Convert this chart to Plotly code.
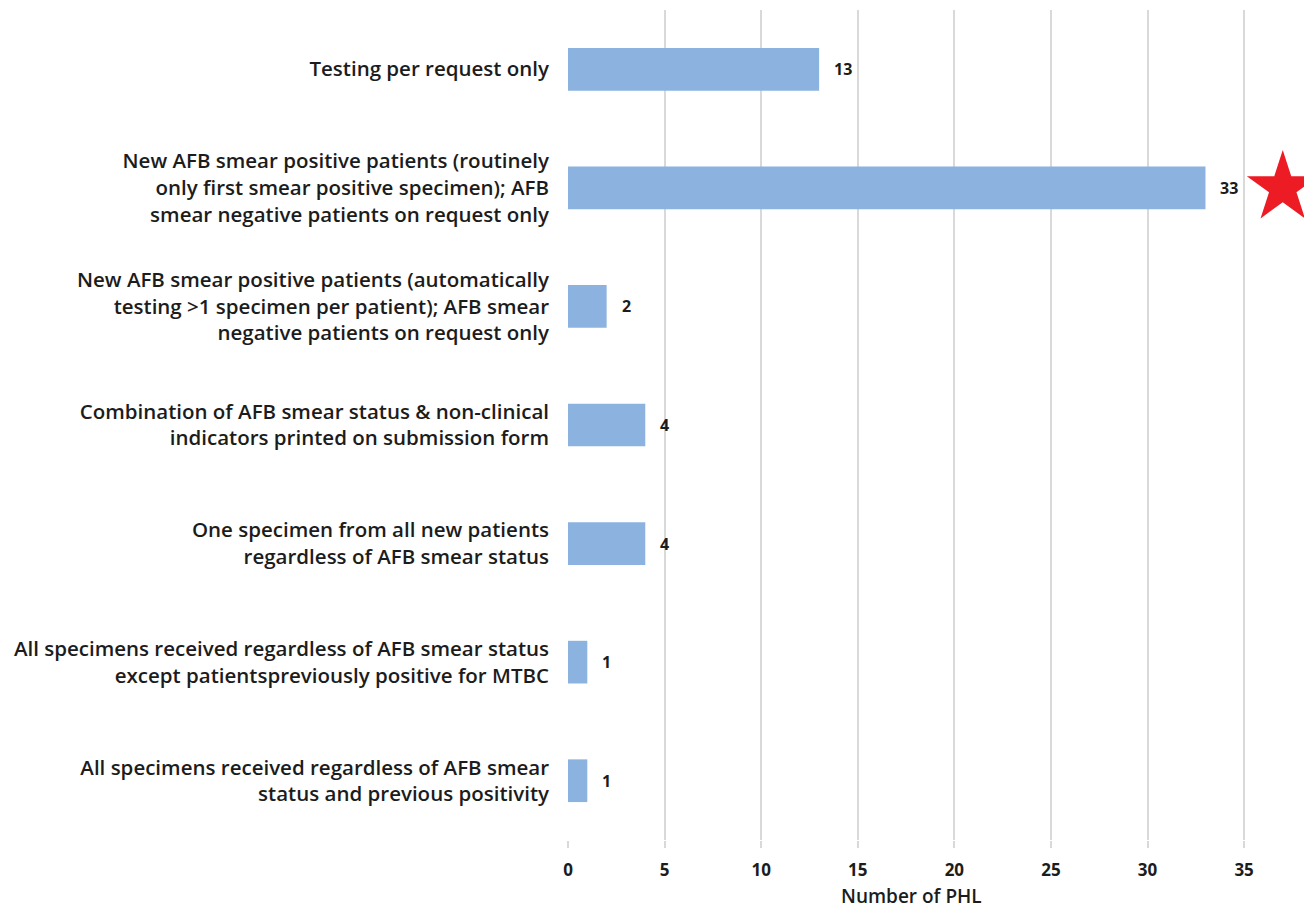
import plotly.graph_objects as go

# Testing strategy categories (top to bottom) and number of PHL using each
categories = [
    "Testing per request only",
    "New AFB smear positive patients (routinely<br>only first smear positive specimen); AFB<br>smear negative patients on request only",
    "New AFB smear positive patients (automatically<br>testing >1 specimen per patient); AFB smear<br>negative patients on request only",
    "Combination of AFB smear status & non-clinical<br>indicators printed on submission form",
    "One specimen from all new patients<br>regardless of AFB smear status",
    "All specimens received regardless of AFB smear status<br>except patientspreviously positive for MTBC",
    "All specimens received regardless of AFB smear<br>status and previous positivity",
]
counts = [13, 33, 2, 4, 4, 1, 1]
tick_values = [0, 5, 10, 15, 20, 25, 30, 35]
highlight_index = 1  # category flagged with a star

FONT = "'Open Sans', Lato, sans-serif"
TEXT_COLOR = "#1c1c1c"
BAR_COLOR = "#8cb2df"
GRID_COLOR = "#d9d9d9"

fig = go.Figure()
fig.add_trace(go.Bar(
    x=counts,
    y=categories,
    orientation="h",
    marker=dict(color=BAR_COLOR, line=dict(width=0)),
    width=0.36,
    hoverinfo="skip",
))

# Red star beside the highlighted bar
fig.add_trace(go.Scatter(
    x=[counts[highlight_index] + 4.0],
    y=[categories[highlight_index]],
    mode="markers",
    marker=dict(symbol="star", size=54, color="#ed1c24", line=dict(width=0)),
    hoverinfo="skip",
))

# Value labels just past the end of each bar
for cat, val in zip(categories, counts):
    fig.add_annotation(
        x=val, y=cat, xref="x", yref="y",
        text=str(val), showarrow=False,
        xanchor="left", yanchor="middle", xshift=13,
        font=dict(family=FONT, size=16, color=TEXT_COLOR, weight="bold"),
    )

# Axis title, centred under the 0-35 span
fig.add_annotation(
    x=0.467, y=0, xref="paper", yref="paper",
    text="Number of PHL", showarrow=False,
    xanchor="center", yanchor="middle", yshift=-56,
    font=dict(family=FONT, size=19, color=TEXT_COLOR, weight=600),
)

fig.update_layout(
    width=1304,
    height=912,
    margin=dict(l=568, r=0, t=10, b=72),
    paper_bgcolor="white",
    plot_bgcolor="white",
    showlegend=False,
    font=dict(family=FONT, color=TEXT_COLOR),
    xaxis=dict(
        range=[0, 38.1],
        tickvals=tick_values,
        showgrid=True,
        gridcolor=GRID_COLOR,
        gridwidth=2,
        zeroline=False,
        showline=False,
        ticks="outside",
        ticklen=7,
        tickwidth=2,
        tickcolor=GRID_COLOR,
        ticklabelstandoff=8,
        tickfont=dict(family=FONT, size=17, color=TEXT_COLOR, weight="bold"),
        fixedrange=True,
    ),
    yaxis=dict(
        autorange="reversed",
        showgrid=False,
        zeroline=False,
        showline=False,
        ticks="",
        ticklabelstandoff=18,
        tickfont=dict(family=FONT, size=20.5, color=TEXT_COLOR, weight=600),
        fixedrange=True,
    ),
)

fig.write_html("out.html")
